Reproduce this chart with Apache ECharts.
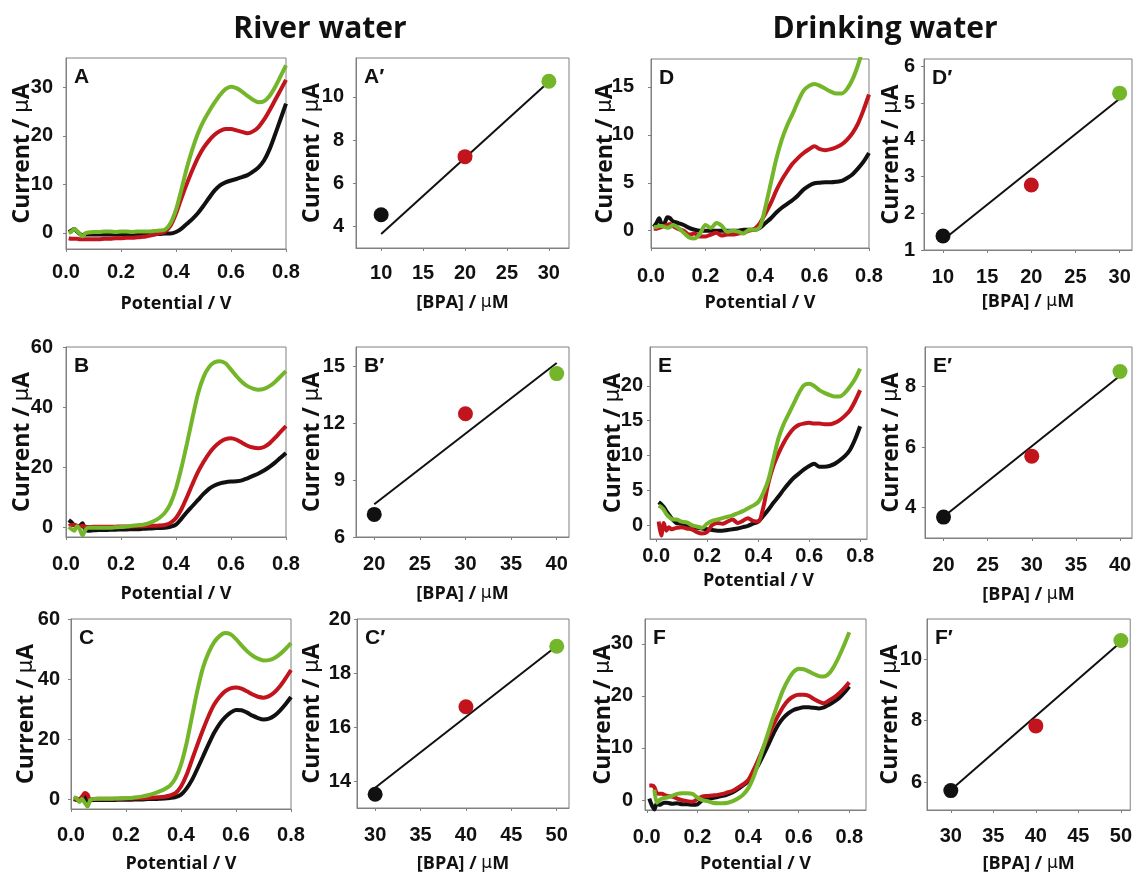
<!DOCTYPE html>
<html><head><meta charset="utf-8">
<script src="https://cdn.jsdelivr.net/npm/echarts@6/dist/echarts.min.js"></script>
<style>html,body{margin:0;padding:0;background:#fff}#c{width:1135px;height:876px}</style>
</head><body><div id="c"></div>
<script>
// ---------- DATA ----------
const potential = [0.01,0.02,0.03,0.04,0.05,0.06,0.07,0.08,0.10,0.12,0.14,0.16,0.18,0.20,0.22,0.24,0.26,0.28,0.30,0.32,0.34,0.36,0.38,0.40,0.42,0.44,0.46,0.48,0.50,0.52,0.54,0.56,0.58,0.60,0.62,0.64,0.66,0.68,0.70,0.72,0.74,0.76,0.78,0.80];

const A_black = [0.2,0.5,0.8,0.3,-0.2,-0.4,-0.3,-0.3,-0.3,-0.3,-0.3,-0.3,-0.3,-0.3,-0.3,-0.3,-0.3,-0.3,-0.3,-0.2,-0.2,-0.1,-0.1,0.2,0.9,1.9,2.9,4.1,5.6,7.2,8.7,9.8,10.4,10.8,11.1,11.5,11.9,12.6,13.5,14.9,17.2,20.2,23.4,26.6];
const A_red   = [-1.1,-1.2,-1.2,-1.2,-1.3,-1.3,-1.3,-1.3,-1.3,-1.3,-1.2,-1.2,-1.1,-1.1,-1.0,-1.0,-0.9,-0.8,-0.6,-0.4,-0.1,0.3,1.5,4.0,7.2,10.2,13.0,15.5,17.5,19.0,20.2,21.0,21.4,21.4,21.1,20.8,20.5,20.9,21.8,23.3,25.2,27.3,29.4,31.5];
const A_green = [0.0,0.3,0.8,0.4,-0.2,-0.7,-0.1,0.1,0.2,0.2,0.3,0.3,0.2,0.3,0.3,0.2,0.3,0.3,0.3,0.4,0.5,0.7,2.0,4.8,9.0,13.5,17.3,20.5,23.0,25.0,26.8,28.4,29.6,30.1,29.8,29.1,28.2,27.4,26.9,27.1,28.2,30.0,32.2,34.5];

const B_black = [2.5,1.8,0.8,0.2,0.5,1.5,-0.8,-1.0,-0.9,-0.8,-0.8,-0.7,-0.7,-0.6,-0.6,-0.5,-0.5,-0.4,-0.3,-0.2,-0.1,0.0,0.3,1.0,3.0,5.2,7.2,9.2,11.2,12.9,14.0,14.7,15.1,15.3,15.4,15.7,16.4,17.2,18.0,19.0,20.2,21.6,23.2,24.8];
const B_red   = [0.5,0.8,1.0,0.6,0.3,0.6,0.3,0.2,0.3,0.3,0.3,0.3,0.3,0.4,0.4,0.4,0.5,0.5,0.6,0.6,0.7,0.9,1.6,3.2,6.2,10.2,14.5,18.5,21.8,24.6,26.8,28.4,29.4,29.7,29.2,28.2,27.2,26.6,26.4,26.8,28.0,29.8,31.8,33.7];
const B_green = [0.2,-0.5,-1.0,0.5,-0.5,-2.5,-0.8,0.0,0.0,0.0,0.0,0.0,0.1,0.2,0.4,0.6,0.8,1.0,1.4,2.2,3.3,5.0,8.0,13.0,20.0,28.0,36.5,44.5,50.0,53.3,54.9,55.3,54.6,52.5,50.3,48.4,47.0,46.2,45.8,46.1,47.0,48.4,50.2,52.0];

const C_black = [0.0,-0.3,-0.5,0.0,1.0,-0.8,-0.5,-0.3,-0.3,-0.3,-0.3,-0.3,-0.2,-0.2,-0.2,-0.1,-0.1,0.0,0.0,0.1,0.2,0.4,0.7,1.5,3.5,6.4,10.2,14.2,18.2,22.0,25.0,27.2,28.8,29.7,29.6,28.8,27.8,27.0,26.5,26.8,27.8,29.5,31.6,34.0];
const C_red   = [0.0,0.2,0.0,0.8,2.0,1.5,-0.3,0.0,0.1,0.1,0.1,0.1,0.2,0.2,0.2,0.3,0.3,0.4,0.5,0.6,0.8,1.2,2.0,4.2,8.0,13.1,18.2,23.1,27.6,31.4,34.0,35.9,36.9,37.2,36.8,35.9,34.9,34.1,33.8,34.3,35.6,37.6,40.2,43.0];
const C_green = [0.5,0.3,-1.0,0.0,-1.2,-2.5,-0.3,0.0,0.1,0.1,0.1,0.2,0.2,0.3,0.4,0.6,0.9,1.3,1.8,2.5,3.3,4.5,7.0,11.5,18.5,27.5,36.4,43.8,48.7,52.2,54.3,55.3,54.9,53.3,51.2,49.3,47.8,46.8,46.2,46.3,47.0,48.3,50.0,52.0];

const D_black = [0.4,0.8,1.3,0.7,0.8,1.4,1.3,1.0,0.8,0.6,0.3,0.1,0.0,0.0,0.0,0.0,0.0,0.0,0.0,0.0,0.1,0.1,0.1,0.3,0.8,1.3,1.9,2.4,2.8,3.2,3.7,4.3,4.7,4.95,5.0,5.05,5.05,5.1,5.2,5.5,5.9,6.5,7.2,8.1];
const D_red   = [0.2,0.2,0.3,0.4,0.5,0.6,0.7,0.5,0.2,0.0,-0.4,-0.3,-0.6,-0.6,-0.4,-0.2,-0.5,-0.4,-0.4,-0.3,-0.2,0.0,0.2,0.8,1.8,2.9,4.2,5.3,6.2,7.0,7.6,8.1,8.5,8.8,8.5,8.4,8.5,8.7,9.0,9.5,10.2,11.2,12.6,14.2];
const D_green = [0.4,0.4,0.5,0.5,0.4,0.3,0.4,0.6,0.3,-0.2,-0.7,-0.8,-0.3,0.6,0.3,0.8,0.5,-0.1,0.0,-0.1,-0.3,0.1,0.1,0.4,2.5,5.0,7.5,9.5,11.0,12.2,13.5,14.6,15.1,15.3,15.1,14.8,14.5,14.3,14.3,14.8,15.8,17.3,19.2,21.0];

const E_black = [3.3,3.0,2.6,2.0,1.5,1.0,0.6,0.3,0.2,0.0,-0.2,-0.4,-0.5,-0.6,-0.7,-0.8,-0.8,-0.7,-0.6,-0.5,-0.3,-0.1,0.2,0.5,1.3,2.2,3.2,4.1,5.1,6.0,6.8,7.4,8.0,8.5,8.8,8.4,8.4,8.5,8.8,9.3,9.9,10.8,12.3,14.2];
const E_red   = [0.5,-1.5,0.3,-0.8,-0.3,-0.6,-0.5,-0.4,-0.3,-0.5,-0.6,-1.0,-1.2,-1.0,0.0,0.3,0.2,0.5,0.8,0.3,0.6,1.0,0.6,0.5,2.5,6.0,8.5,10.3,11.8,13.0,13.9,14.4,14.6,14.7,14.6,14.6,14.5,14.5,14.7,15.1,15.7,16.5,17.8,19.4];
const E_green = [2.8,2.6,2.2,1.6,1.2,0.9,0.8,0.8,0.5,0.4,0.0,-0.2,-0.4,0.2,0.6,0.8,1.0,1.2,1.4,1.7,2.0,2.4,2.8,3.3,4.6,6.5,9.5,12.5,14.5,16.0,17.5,19.0,20.1,20.3,20.0,19.4,19.0,18.7,18.5,18.5,19.0,19.9,21.0,22.5];

const F_black = [0.3,-1.0,-1.8,-0.6,-0.9,-0.7,-0.5,-0.5,-0.7,-0.6,-0.8,-0.8,-0.9,-0.8,0.0,0.2,0.4,0.6,0.8,1.1,1.5,2.1,2.8,3.6,5.0,6.7,8.6,10.6,12.7,14.5,15.8,16.7,17.3,17.6,17.8,17.8,17.7,17.6,17.8,18.3,18.9,19.6,20.6,21.8];
const F_red   = [2.8,2.8,2.5,1.3,1.2,1.2,1.0,0.8,0.7,0.3,0.0,-0.2,-0.3,0.2,0.7,0.8,0.9,1.0,1.2,1.5,1.8,2.4,3.0,3.8,5.6,7.7,10.0,12.2,14.4,16.3,18.0,19.2,19.9,20.2,20.2,20.0,19.4,18.9,18.6,19.1,19.7,20.5,21.5,22.6];
const F_green = [null,null,2.0,-0.5,0.0,0.3,0.4,0.5,0.8,1.2,1.3,1.3,1.2,0.5,0.0,-0.2,-0.5,-0.6,-0.6,-0.5,-0.2,0.3,1.0,2.2,4.2,7.0,10.0,13.0,16.0,18.8,21.3,23.2,24.6,25.2,25.1,24.7,24.2,23.8,23.7,24.3,25.7,27.6,29.8,32.2];

// calibration plots: [BPA] (µM) and peak current (µA)
const concA = [10,20,30], currA = [4.54,7.23,10.72], fitA_x = [10,30], fitA_y = [3.65,10.7];
const concB = [20,30,40], currB = [7.19,12.49,14.6], fitB_x = [20,40], fitB_y = [7.72,15.16];
const concC = [30,40,50], currC = [13.51,16.75,18.99], fitC_x = [30,50], fitC_y = [13.75,19.0];
const concD = [10,20,30], currD = [1.38,2.77,5.27], fitD_x = [10,30], fitD_y = [1.27,5.12];
const concE = [20,30,40], currE = [3.69,5.7,8.49], fitE_x = [20,40], fitE_y = [3.7,8.35];
const concF = [30,40,50], currF = [5.73,7.83,10.6], fitF_x = [30,50], fitF_y = [5.75,10.55];

// tick labels
const potTicks = [0,0.2,0.4,0.6,0.8];
const yTicksA = [0,10,20,30], yTicksB = [0,20,40,60], yTicksC = [0,20,40,60];
const yTicksD = [0,5,10,15], yTicksE = [0,5,10,15,20], yTicksF = [0,10,20,30];
const xTicksA2 = [10,15,20,25,30], yTicksA2 = [4,6,8,10];
const xTicksB2 = [20,25,30,35,40], yTicksB2 = [6,9,12,15];
const xTicksC2 = [30,35,40,45,50], yTicksC2 = [14,16,18,20];
const xTicksD2 = [10,15,20,25,30], yTicksD2 = [1,2,3,4,5,6];
const xTicksE2 = [20,25,30,35,40], yTicksE2 = [4,6,8];
const xTicksF2 = [30,35,40,45,50], yTicksF2 = [6,8,10];

const headings = ['River water', 'Drinking water'];

// ---------- LAYOUT / STYLE ----------
const COLORS = ['#111111', '#c2141c', '#74b62a'];
const panels = [
  {label:'A',  cv:[A_black,A_red,A_green], box:[66,58,220,191],  x:[0,0.8], y:[-3.3,36], xt:potTicks, yt:yTicksA, yGap:32, xGap:46, xm:13, ym:13},
  {label:'A\u2032', conc:concA, curr:currA, fx:fitA_x, fy:fitA_y, box:[356,58,213,190], x:[7,32.4], y:[3,11.8], xt:xTicksA2, yt:yTicksA2, yGap:32, xGap:46, xm:15, ym:12},
  {label:'D',  cv:[D_black,D_red,D_green], box:[651,59,218,189], x:[0,0.8], y:[-1.8,17.9], xt:potTicks, yt:yTicksD, yGap:34, xGap:46, xm:18, ym:17},
  {label:'D\u2032', conc:concD, curr:currD, fx:fitD_x, fy:fitD_y, box:[924,59,208,191], x:[7.85,31.4], y:[1,6.2], xt:xTicksD2, yt:yTicksD2, yGap:21, xGap:43, xm:17, ym:9},
  {label:'B',  cv:[B_black,B_red,B_green], box:[66,347,220,190], x:[0,0.8], y:[-3.1,60], xt:potTicks, yt:yTicksB, yGap:32, xGap:48, xm:17, ym:13},
  {label:'B\u2032', conc:concB, curr:currB, fx:fitB_x, fy:fitB_y, box:[356,347,213,190], x:[18,41.35], y:[6,16], xt:xTicksB2, yt:yTicksB2, yGap:32, xGap:48, xm:17, ym:11},
  {label:'E',  cv:[E_black,E_red,E_green], box:[650,347,217,192], x:[-0.024,0.827], y:[-2,25.6], xt:potTicks, yt:yTicksE, yGap:25, xGap:33, xm:7, ym:7},
  {label:'E\u2032', conc:concE, curr:currE, fx:fitE_x, fy:fitE_y, box:[925,347,207,191], x:[17.9,41.36], y:[3,9.3], xt:xTicksE2, yt:yTicksE2, yGap:22, xGap:48, xm:17, ym:9},
  {label:'C',  cv:[C_black,C_red,C_green], box:[71,619,220,190], x:[0,0.8], y:[-3.3,60], xt:potTicks, yt:yTicksC, yGap:33, xGap:46, xm:16, ym:11},
  {label:'C\u2032', conc:concC, curr:currC, fx:fitC_x, fy:fitC_y, box:[357,619,212,189], x:[28,51.35], y:[13,20], xt:xTicksC2, yt:yTicksC2, yGap:33, xGap:47, xm:17, ym:6},
  {label:'F',  cv:[F_black,F_red,F_green], box:[645,619,221,191], x:[-0.007,0.866], y:[-1.9,34.75], xt:potTicks, yt:yTicksF, yGap:30, xGap:45, xm:17, ym:12},
  {label:'F\u2032', conc:concF, curr:currF, fx:fitF_x, fy:fitF_y, box:[927,619,205,191], x:[27.2,51.1], y:[5.1,11.3], xt:xTicksF2, yt:yTicksF2, yGap:25, xGap:45, xm:16, ym:5}
];

const TICK_FONT = "'Liberation Sans Narrow', 'Liberation Sans', Arial, sans-serif";
const TITLE_FONT = "'Open Sans', 'Noto Sans', sans-serif";
const AXIS_COLOR = '#808080';
const xNameRich = {
  t: {fontFamily: TITLE_FONT, fontWeight: 'bold', fontSize: 18, color: '#111'},
  m: {fontFamily: "'DejaVu Sans', sans-serif", fontWeight: 'normal', fontSize: 17, color: '#111'}
};
const yNameRich = {
  t: {fontFamily: TITLE_FONT, fontWeight: 'bold', fontSize: 23, color: '#111'},
  m: {fontFamily: "'DejaVu Sans', sans-serif", fontWeight: 'normal', fontSize: 21, color: '#111'}
};

const grid = [], xAxis = [], yAxis = [], series = [], title = [];
[320, 885].forEach((cx, k) => title.push({text: headings[k], left: cx, top: 14, textAlign: 'center', padding: 0,
  textStyle: {fontFamily: TITLE_FONT, fontWeight: 'bold', fontSize: 30, color: '#111'}}));

panels.forEach((p, i) => {
  const [l, t, w, h] = p.box;
  grid.push({left: l, top: t, width: w, height: h, show: true, borderColor: AXIS_COLOR, borderWidth: 1, backgroundColor: 'transparent'});
  const isCV = !!p.cv;
  xAxis.push({
    type: 'value', gridIndex: i, min: p.x[0], max: p.x[1],
    axisLine: {show: true, onZero: false, lineStyle: {color: AXIS_COLOR, width: 1}},
    axisTick: {show: true, length: 3, customValues: p.xt, lineStyle: {color: AXIS_COLOR}},
    axisLabel: {customValues: p.xt, margin: p.xm, fontFamily: TICK_FONT, fontWeight: 'bold', fontSize: 20, color: '#111',
      formatter: v => isCV ? v.toFixed(1) : String(v)},
    splitLine: {show: false},
    name: isCV ? '{t|Potential / V}' : '{t|[BPA] / }{m|\u03bc}{t|M}',
    nameLocation: 'middle', nameGap: p.xGap, nameMoveOverlap: false, nameTextStyle: {rich: xNameRich}
  });
  yAxis.push({
    type: 'value', gridIndex: i, min: p.y[0], max: p.y[1],
    axisLine: {show: true, onZero: false, lineStyle: {color: AXIS_COLOR, width: 1}},
    axisTick: {show: true, length: 3, customValues: p.yt, lineStyle: {color: AXIS_COLOR}},
    axisLabel: {customValues: p.yt, margin: p.ym, fontFamily: TICK_FONT, fontWeight: 'bold', fontSize: 20, color: '#111'},
    splitLine: {show: false},
    name: '{t|Current / }{m|\u03bc}{t|A}',
    nameLocation: 'middle', nameGap: p.yGap, nameRotate: 90, nameMoveOverlap: false, nameTextStyle: {rich: yNameRich}
  });
  title.push({text: p.label, left: l + 8, top: t + 9, padding: 0,
    textStyle: {fontFamily: "'Liberation Sans', Arial, sans-serif", fontWeight: 'bold', fontSize: 21, color: '#111'}});
  if (isCV) {
    p.cv.forEach((ys, k) => {
      const data = [];
      potential.forEach((xv, j) => { if (ys[j] !== null) data.push([xv, ys[j]]); });
      series.push({type: 'line', xAxisIndex: i, yAxisIndex: i, data, showSymbol: false, smooth: 0.3,
        lineStyle: {color: COLORS[k], width: 4}, clip: true, silent: true, z: 2 + k});
    });
  } else {
    series.push({type: 'line', xAxisIndex: i, yAxisIndex: i, data: p.fx.map((xv, j) => [xv, p.fy[j]]),
      showSymbol: false, lineStyle: {color: '#111', width: 2}, silent: true, z: 2});
    series.push({type: 'scatter', xAxisIndex: i, yAxisIndex: i, symbolSize: 15, silent: true, z: 3,
      data: p.conc.map((xv, j) => ({value: [xv, p.curr[j]], itemStyle: {color: COLORS[j], opacity: 1}}))});
  }
});

const chart = echarts.init(document.getElementById('c'), null, {renderer: 'canvas'});
chart.setOption({animation: false, backgroundColor: '#fff', title, grid, xAxis, yAxis, series});
</script></body></html>
